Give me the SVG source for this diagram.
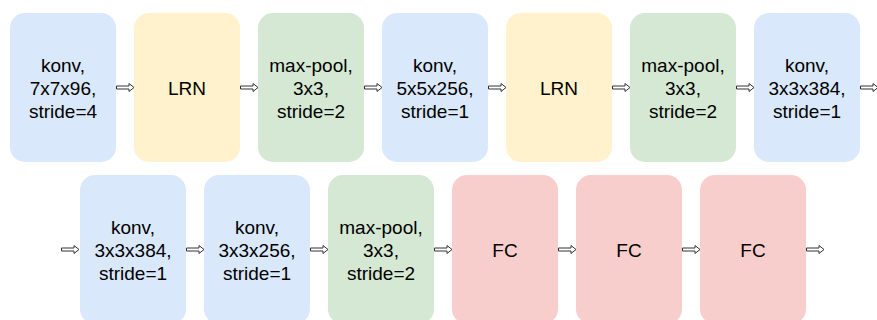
<svg xmlns="http://www.w3.org/2000/svg" xmlns:xlink="http://www.w3.org/1999/xlink" width="877" height="320" viewBox="0 0 877 320">
<style>
.box{stroke:none}
.conv{fill:#dae8fc}
.lrn{fill:#fff2cc}
.pool{fill:#d5e8d4}
.fc{fill:#f8cecc}
text{font-family:"Liberation Sans",Arial,sans-serif;font-size:19px;fill:#000;text-anchor:middle}
.arr{fill:#fff;stroke:#333;stroke-width:1;stroke-linejoin:miter}
</style>
<defs>
<path id="arrow" class="arr" d="M0,-1.5 H12.5 V-4 L17.5,0 L12.5,4 V1.5 H0 Z"/>
</defs>
<rect width="877" height="320" fill="#fff"/>
<g id="n1"><rect class="box conv" x="10" y="13" width="106" height="149" rx="15"/><text x="63" y="71.5">konv,</text><text x="63" y="95">7x7x96,</text><text x="63" y="118">stride=4</text></g>
<g id="n2"><rect class="box lrn" x="134" y="13" width="106" height="149" rx="15"/><text x="187" y="95">LRN</text></g>
<g id="n3"><rect class="box pool" x="258" y="13" width="106" height="149" rx="15"/><text x="311" y="71.5">max-pool,</text><text x="311" y="95">3x3,</text><text x="311" y="118">stride=2</text></g>
<g id="n4"><rect class="box conv" x="382" y="13" width="106" height="149" rx="15"/><text x="435" y="71.5">konv,</text><text x="435" y="95">5x5x256,</text><text x="435" y="118">stride=1</text></g>
<g id="n5"><rect class="box lrn" x="506" y="13" width="106" height="149" rx="15"/><text x="559" y="95">LRN</text></g>
<g id="n6"><rect class="box pool" x="630" y="13" width="106" height="149" rx="15"/><text x="683" y="71.5">max-pool,</text><text x="683" y="95">3x3,</text><text x="683" y="118">stride=2</text></g>
<g id="n7"><rect class="box conv" x="754" y="13" width="106" height="149" rx="15"/><text x="807" y="71.5">konv,</text><text x="807" y="95">3x3x384,</text><text x="807" y="118">stride=1</text></g>
<g id="n8"><rect class="box conv" x="80" y="175" width="106" height="149" rx="15"/><text x="133" y="233.5">konv,</text><text x="133" y="257">3x3x384,</text><text x="133" y="280">stride=1</text></g>
<g id="n9"><rect class="box conv" x="204" y="175" width="106" height="149" rx="15"/><text x="257" y="233.5">konv,</text><text x="257" y="257">3x3x256,</text><text x="257" y="280">stride=1</text></g>
<g id="n10"><rect class="box pool" x="328" y="175" width="106" height="149" rx="15"/><text x="381" y="233.5">max-pool,</text><text x="381" y="257">3x3,</text><text x="381" y="280">stride=2</text></g>
<g id="n11"><rect class="box fc" x="452" y="175" width="106" height="149" rx="15"/><text x="505" y="257">FC</text></g>
<g id="n12"><rect class="box fc" x="576" y="175" width="106" height="149" rx="15"/><text x="629" y="257">FC</text></g>
<g id="n13"><rect class="box fc" x="700" y="175" width="106" height="149" rx="15"/><text x="753" y="257">FC</text></g>
<g id="connectors">
<use xlink:href="#arrow" x="116.5" y="87.5"/>
<use xlink:href="#arrow" x="240.5" y="87.5"/>
<use xlink:href="#arrow" x="364.5" y="87.5"/>
<use xlink:href="#arrow" x="488.5" y="87.5"/>
<use xlink:href="#arrow" x="612.5" y="87.5"/>
<use xlink:href="#arrow" x="736.5" y="87.5"/>
<use xlink:href="#arrow" x="860.5" y="87.5"/>
<use xlink:href="#arrow" x="61.5" y="249.5"/>
<use xlink:href="#arrow" x="186.5" y="249.5"/>
<use xlink:href="#arrow" x="310.5" y="249.5"/>
<use xlink:href="#arrow" x="434.5" y="249.5"/>
<use xlink:href="#arrow" x="558.5" y="249.5"/>
<use xlink:href="#arrow" x="682.5" y="249.5"/>
<use xlink:href="#arrow" x="806.5" y="249.5"/>
</g>
</svg>
